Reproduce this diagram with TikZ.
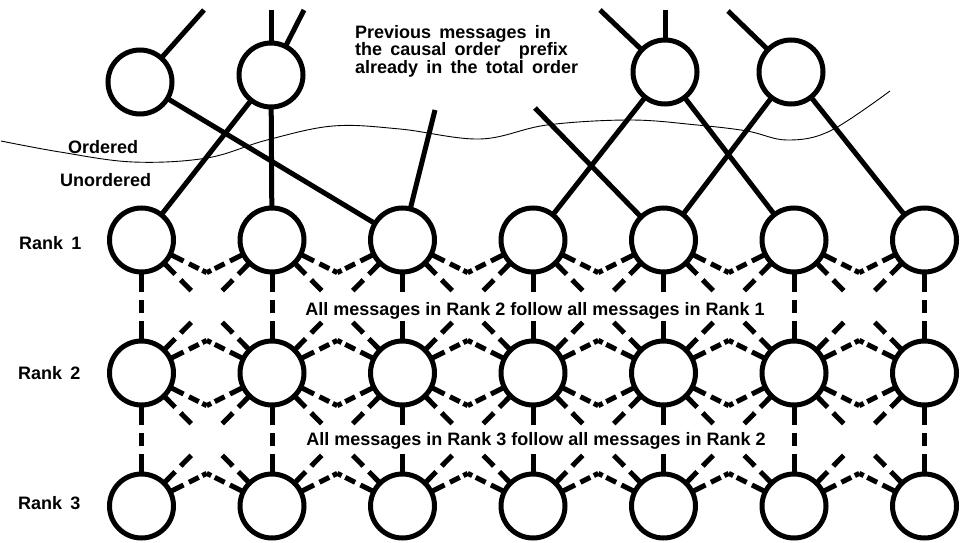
\documentclass[tikz,border=0pt]{standalone}
\usepackage{fontspec}
\setmainfont{Liberation Sans}
\newfontfamily\widesans[WordSpace=1.65]{Liberation Sans}
\usetikzlibrary{calc}

\begin{document}
\begin{tikzpicture}[x=1pt,y=-1pt,
  msg/.style={circle, draw, line width=5pt, minimum size=64pt, inner sep=0pt, outer sep=0pt, fill=white},
  link/.style={line width=5pt},
  vlink/.style={line width=5pt, dash pattern=on 20pt off 8pt on 13pt off 8pt on 20pt off 30pt},
  xlink/.style={line width=5pt, dash pattern=on 16pt off 8pt on 15pt off 44.3pt on 15pt off 8pt on 16pt off 30pt},
  vhalf/.style={line width=5pt, dash pattern=on 15pt off 6pt on 11pt off 4pt on 8pt off 30pt},
  lbl/.style={font=\widesans\bfseries\fontsize{18}{19}\selectfont, inner sep=0pt},
  plain/.style={font=\bfseries\fontsize{18}{19}\selectfont, inner sep=0pt},
  ranktext/.style={font=\bfseries\fontsize{18}{20}\selectfont, inner sep=1.5pt, fill=white},
  boundary/.style={line width=0.9pt}
]
\useasboundingbox (0,0) rectangle (966,543);

% boundary between the ordered prefix and the unordered messages
\draw[boundary] plot[smooth, tension=0.6] coordinates {(1,141) (60,152) (133,162) (207,158) (267,140) (333,126) (400,129) (480,139) (547,125) (630,120) (697,125) (747,131) (787,140) (830,131) (890,91)};

% messages already in the total order
\node[msg] (ta) at (140,82) {};
\node[msg] (tb) at (271,75) {};
\node[msg] (tc) at (665,72) {};
\node[msg] (td) at (791,72) {};

% ranked messages
\foreach \i/\x in {1/141.5, 2/272, 3/402.5, 4/533, 5/663.5, 6/794, 7/924.5} {
  \node[msg] (n1-\i) at (\x,240) {};
  \node[msg] (n2-\i) at (\x,373) {};
  \node[msg] (n3-\i) at (\x,506) {};
}

% free ends of the causal edges
\coordinate (ea) at (204,10);
\coordinate (eb1) at (271,10);
\coordinate (eb2) at (304,10);
\coordinate (ec1) at (600,10);
\coordinate (ec2) at (665,10);
\coordinate (ed) at (728,11);
\coordinate (e3) at (435,110);
\coordinate (e5) at (535,108);

% causal edges
\draw[link] (ta) -- (ea);
\draw[link] (tb) -- (eb1);
\draw[link] (tb) -- (eb2);
\draw[link] (tc) -- (ec1);
\draw[link] (tc) -- (ec2);
\draw[link] (td) -- (ed);
\draw[link] (ta) -- (n1-3);
\draw[link] (tb) -- (n1-1);
\draw[link] (tb) -- (n1-2);
\draw[link] (n1-3) -- (e3);
\draw[link] (tc) -- (n1-4);
\draw[link] (tc) -- (n1-6);
\draw[link] (e5) -- (n1-5);
\draw[link] (td) -- (n1-5);
\draw[link] (td) -- (n1-7);

% rank-to-rank ordering
\foreach \a/\b in {1/2, 2/3} {
  \foreach \i in {1,...,7} {
    \draw[vlink] (n\a-\i) -- (n\b-\i);
  }
  \foreach \i [evaluate=\i as \j using int(\i+1)] in {1,...,6} {
    \draw[xlink] (n\a-\i) -- (n\b-\j);
    \draw[xlink] (n\a-\j) -- (n\b-\i);
    \coordinate (vlo) at ($(n\a-\i)!0.5!(n\a-\j)+(0,32.6)$);
    \draw[vhalf] (n\a-\i) -- (vlo);
    \draw[vhalf] (n\a-\j) -- (vlo);
    \coordinate (vhi) at ($(n\b-\i)!0.5!(n\b-\j)+(0,-32.6)$);
    \draw[vhalf] (n\b-\i) -- (vhi);
    \draw[vhalf] (n\b-\j) -- (vhi);
  }
}

% labels
\node[ranktext, anchor=base] (t12) at (535,315) {All messages in Rank 2 follow all messages in Rank 1};
\node[ranktext, anchor=base] (t23) at (536,445) {All messages in Rank 3 follow all messages in Rank 2};

\node[lbl, anchor=base west] (p1) at (355,38) {Previous messages in};
\node[lbl, anchor=base west] (p2) at (355,56) {the causal order\hspace{10pt} prefix};
\node[lbl, anchor=base west] (p3) at (355,74) {already in the total order};

\node[plain, anchor=base west] (ord) at (68,153) {Ordered};
\node[plain, anchor=base west] (unord) at (60,186) {Unordered};

\node[lbl, anchor=base west] (k1) at (19,249) {Rank 1};
\node[lbl, anchor=base west] (k2) at (18,379) {Rank 2};
\node[lbl, anchor=base west] (k3) at (18,509) {Rank 3};
\end{tikzpicture}
\end{document}
